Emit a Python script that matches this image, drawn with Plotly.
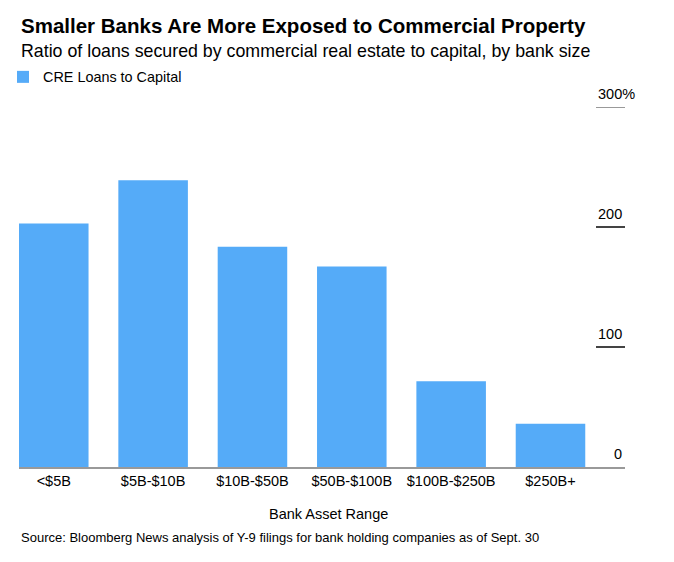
import plotly.graph_objects as go

categories = ["<$5B", "$5B-$10B", "$10B-$50B", "$50B-$100B", "$100B-$250B", "$250B+"]
cre_to_capital = [203, 239, 183.5, 167, 71.5, 36]
y_tick_values = [0, 100, 200, 300]
y_tick_labels = ["0", "100", "200", "300%"]

title = "Smaller Banks Are More Exposed to Commercial Property"
subtitle = "Ratio of loans secured by commercial real estate to capital, by bank size"
series_name = "CRE Loans to Capital"
x_title = "Bank Asset Range"
source = "Source: Bloomberg News analysis of Y-9 filings for bank holding companies as of Sept. 30"

BLUE = "#55abf8"
FONT = "Liberation Sans, Arial, sans-serif"

# the page adds an 8px body margin; positions below are given in screen pixels
OFF = 8
W, H = 674, 562
PLOT_L, PLOT_R, PLOT_T, PLOT_B = 19, 625, 107, 467  # screen px
L = PLOT_L - OFF
R = W - (PLOT_R - OFF)
T = PLOT_T - OFF
B = H - (PLOT_B - OFF)
PW, PH = W - L - R, H - T - B


def px_x(px):
    return (px - OFF - L) / PW


def px_y(py):
    return (H - B - (py - OFF)) / PH


fig = go.Figure()
fig.add_trace(go.Bar(
    x=categories, y=cre_to_capital, name=series_name,
    marker=dict(color=BLUE, line=dict(width=0)),
    showlegend=True,
))


def txt(text, x, y, size, anchor="left", bold=False):
    return dict(text=("<b>%s</b>" % text) if bold else text, x=px_x(x), y=px_y(y),
                xref="paper", yref="paper", xanchor=anchor, yanchor="middle",
                showarrow=False, font=dict(family=FONT, size=size, color="#000"))


annotations = [
    txt(title, 19, 26, 20.5, bold=True),
    txt(subtitle, 19, 51, 17.8),
    txt(x_title, 328, 513.5, 14.5, anchor="center"),
    txt(source, 19, 537.5, 13),
]
for v, lab in zip(y_tick_values, y_tick_labels):
    left = lab.endswith("%")
    annotations.append(dict(
        text=lab, x=px_x(596 if left else 624), y=v, xref="paper", yref="y",
        xanchor="left" if left else "right", yanchor="middle", yshift=13, showarrow=False,
        font=dict(family=FONT, size=14.5, color="#000"),
    ))

fig.update_layout(
    width=W, height=H,
    margin=dict(l=L, r=R, t=T, b=B, autoexpand=False),
    paper_bgcolor="white", plot_bgcolor="white",
    bargap=0.3,
    font=dict(family=FONT, size=14.5, color="#000"),
    showlegend=True,
    legend=dict(orientation="h", x=px_x(3), y=px_y(77), xanchor="left", yanchor="middle",
                font=dict(family=FONT, size=14.4, color="#000"), itemwidth=30,
                bgcolor="rgba(0,0,0,0)"),
    annotations=annotations,
    xaxis=dict(
        range=[-0.35, 5.75], showgrid=False, zeroline=False,
        showline=True, linecolor="#999", linewidth=2,
        ticks="", tickfont=dict(family=FONT, size=14.5, color="#000"),
        fixedrange=True,
    ),
    yaxis=dict(
        range=[0, 300], side="right", showgrid=False, zeroline=False, showline=False,
        tickvals=y_tick_values[1:3], ticks="inside", ticklen=29, tickwidth=1.5, tickcolor="#444",
        showticklabels=False, fixedrange=True,
    ),
    shapes=[dict(type="line", xref="paper", yref="y", x0=px_x(596), x1=1, y0=300, y1=300,
                 line=dict(color="#999", width=2))],
)

fig.write_html("out.html")
